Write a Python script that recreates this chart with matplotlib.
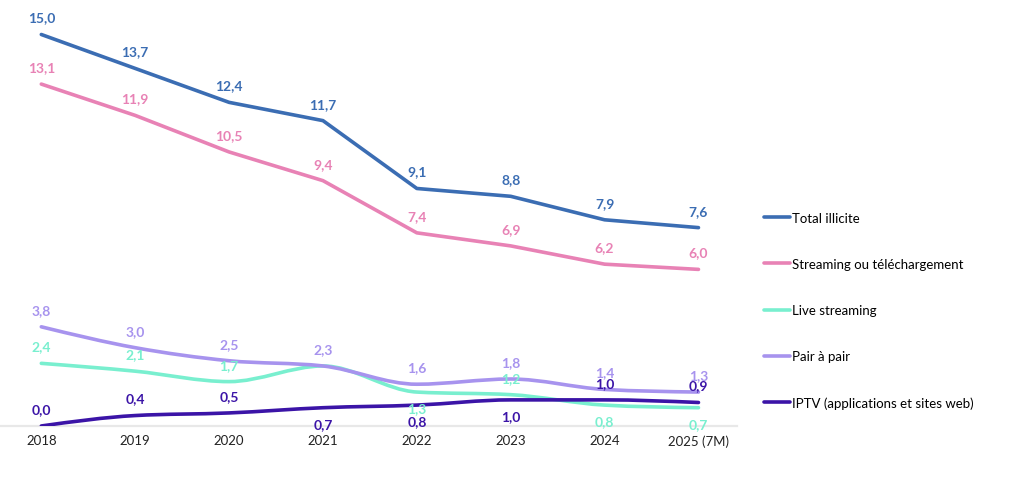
import numpy as np
import matplotlib
matplotlib.use("Agg")
import matplotlib.pyplot as plt
from matplotlib.path import Path
from matplotlib.patches import PathPatch
from matplotlib.lines import Line2D

plt.rcParams['font.family'] = ['Lato', 'DejaVu Sans']

years = ["2018", "2019", "2020", "2021", "2022", "2023", "2024", "2025 (7M)"]
total = [15.0, 13.7, 12.4, 11.7, 9.1, 8.8, 7.9, 7.6]
streaming = [13.1, 11.9, 10.5, 9.4, 7.4, 6.9, 6.2, 6.0]
live = [2.4, 2.1, 1.7, 2.3, 1.3, 1.2, 0.8, 0.7]
p2p = [3.8, 3.0, 2.5, 2.3, 1.6, 1.8, 1.4, 1.3]
iptv = [0.0, 0.4, 0.5, 0.7, 0.8, 1.0, 1.0, 0.9]

names = ["Total illicite", "Streaming ou téléchargement", "Live streaming",
         "Pair à pair", "IPTV (applications et sites web)"]
series = [total, streaming, live, p2p, iptv]
colors = ["#3b6db3", "#e882b5", "#79efcf", "#a793ee", "#3b14a7"]
smooth = [False, False, True, True, True]
# label placement: +1 above, -1 below, 0 hidden
place = [
    [1] * 8,
    [1] * 8,
    [1, 1, 1, 0, -1, 1, -1, -1],
    [1] * 8,
    [1, 1, 1, -1, -1, -1, 1, 1],
]


def monotone_path(x, y):
    x = np.asarray(x, float)
    y = np.asarray(y, float)
    n = len(x)
    h = np.diff(x)
    s = np.diff(y) / h
    m = np.zeros(n)
    for i in range(1, n - 1):
        p = (s[i - 1] * h[i] + s[i] * h[i - 1]) / (h[i - 1] + h[i])
        m[i] = (np.sign(s[i - 1]) + np.sign(s[i])) * min(abs(s[i - 1]), abs(s[i]), 0.5 * abs(p))
    m[0] = (3 * s[0] - m[1]) / 2
    m[-1] = (3 * s[-1] - m[-2]) / 2
    verts = [(x[0], y[0])]
    codes = [Path.MOVETO]
    for i in range(n - 1):
        d = h[i] / 3
        verts += [(x[i] + d, y[i] + m[i] * d), (x[i + 1] - d, y[i + 1] - m[i + 1] * d), (x[i + 1], y[i + 1])]
        codes += [Path.CURVE4] * 3
    return Path(verts, codes)


fig = plt.figure(figsize=(10.24, 4.81), dpi=100)
ax = fig.add_axes([0.0, 0.1123, 0.7197, 0.8877])
xs = np.arange(len(years))
ax.set_xlim(-0.44, len(years) - 1 + 0.41)
ax.set_ylim(0, 16.36)

order = [2, 3, 4, 1, 0]
for k in order:
    if smooth[k]:
        patch = PathPatch(monotone_path(xs, series[k]), facecolor="none", edgecolor=colors[k],
                          lw=2.6, capstyle="round", joinstyle="round", zorder=3 + k * 0.1)
        ax.add_patch(patch)
    else:
        ax.plot(xs, series[k], color=colors[k], lw=2.6, solid_capstyle="round",
                solid_joinstyle="round", zorder=3 + k * 0.1)

for k in [2, 4, 3, 1, 0]:
    for i, v in enumerate(series[k]):
        pl = place[k][i]
        if pl == 0:
            continue
        off = 17 if pl > 0 else -16
        ax.annotate(f"{v:.1f}".replace(".", ","), (xs[i], v), xytext=(0, off),
                    textcoords="offset pixels",
                    ha="center", va="center", fontsize=10, fontweight="bold",
                    color=colors[k], zorder=6)

for sp in ["top", "right", "left"]:
    ax.spines[sp].set_visible(False)
ax.spines["bottom"].set_color("#e8e8e8")
ax.spines["bottom"].set_linewidth(1.6)
ax.set_yticks([])
ax.set_xticks(xs)
ax.set_xticklabels(years, fontsize=9.5, color="#222222")
ax.tick_params(axis="x", length=0, pad=6)

handles = [Line2D([], [], color=c, lw=2.6, solid_capstyle="round") for c in colors]
fig.legend(handles, names, loc="upper left", bbox_to_anchor=(0.741, 0.568),
           frameon=False, fontsize=9.5, handlelength=2.0, handletextpad=0.15,
           labelspacing=2.58, borderaxespad=0)

fig.savefig("out.png", dpi=100)
